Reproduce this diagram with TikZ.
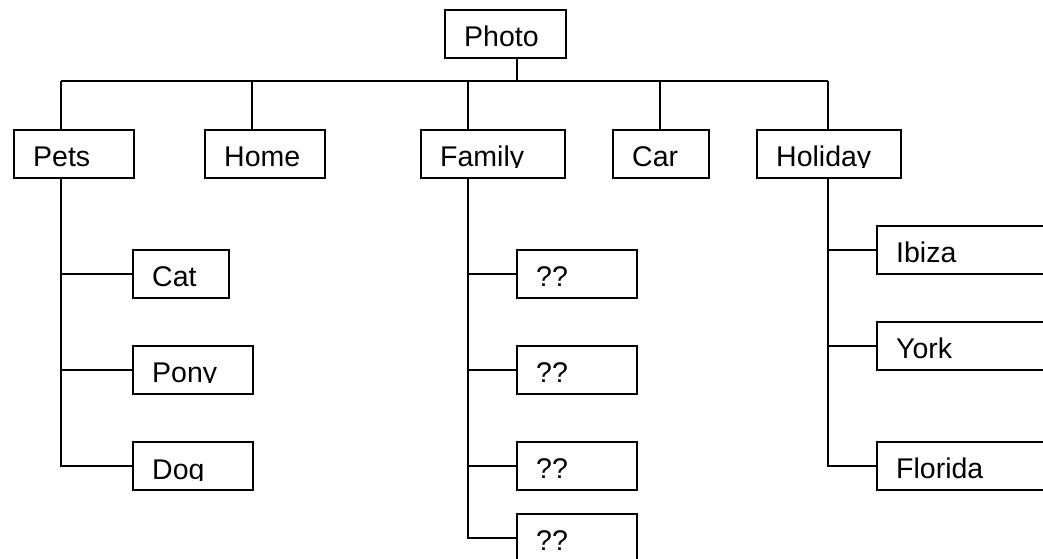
\documentclass[tikz,border=0pt]{standalone}
\usepackage{fontspec}
\setmainfont{Liberation Sans}
\tikzset{
  boxst/.style={draw=black, line width=1.8pt, inner sep=0pt, anchor=north west},
  lnk/.style={draw=black, line width=1.8pt},
  lbl/.style={anchor=base west, inner sep=0pt, font=\fontsize{28.5}{34}\selectfont}
}
% name, x1, y1, x2, y2, text, baseline offset
\newcommand\tbox[7]{%
  \node[boxst, minimum width={(#4-#2)*1pt}, minimum height={(#5-#3)*1pt}] (#1) at (#2,#3) {};
  \begin{scope}
    \clip ({#2},{#3}) rectangle ({#4},{#3+#7+0.3});
    \node[lbl] (#1-t) at ({#2+20},{#3+#7}) {#6};
  \end{scope}
}
\begin{document}
\begin{tikzpicture}[x=1pt,y=-1pt]
\useasboundingbox[fill=white] (0,0) rectangle (1043,558);
\begin{scope}
\clip (0,0) rectangle (1043,558);
% level 0
\tbox{photo}{444}{9}{565}{57}{Photo}{37.7}
% level 1
\tbox{pets}{13}{129}{133}{177}{Pets}{37.7}
\tbox{home}{204}{129}{324}{177}{Home}{37.7}
\tbox{family}{420}{129}{564}{177}{Family}{37.7}
\tbox{car}{612}{129}{708}{177}{Car}{37.7}
\tbox{holiday}{756}{129}{900}{177}{Holiday}{37.7}
% pets children
\tbox{cat}{132}{249}{228}{297}{Cat}{37.7}
\tbox{pony}{132}{345}{252}{393}{Pony}{37.2}
\tbox{dog}{132}{441}{252}{489}{Dog}{38.7}
% family children
\tbox{q1}{516}{249}{636}{297}{??}{37.5}
\tbox{q2}{516}{345}{636}{393}{??}{37.5}
\tbox{q3}{516}{441}{636}{489}{??}{37.5}
\tbox{q4}{516}{513}{636}{561}{??}{37.5}
% holiday children
\tbox{ibiza}{876}{225}{1060}{273}{Ibiza}{37.2}
\tbox{york}{876}{321}{1060}{369}{York}{37.2}
\tbox{florida}{876}{441}{1060}{489}{Florida}{37.2}

% junction coordinates on the bar
\coordinate (j0) at (517,81);
\coordinate (jPets) at (61,81);
\coordinate (jHome) at (252,81);
\coordinate (jFamily) at (468,81);
\coordinate (jCar) at (660,81);
\coordinate (jHoliday) at (828,81);

\draw[lnk] (j0 |- photo.south) -- (j0);
\draw[lnk] (jPets) -- (jHoliday);
\draw[lnk] (jPets) -- (jPets |- pets.north);
\draw[lnk] (jHome) -- (jHome |- home.north);
\draw[lnk] (jFamily) -- (jFamily |- family.north);
\draw[lnk] (jCar) -- (jCar |- car.north);
\draw[lnk] (jHoliday) -- (jHoliday |- holiday.north);

% pets tree
\draw[lnk] (jPets |- pets.south) -- (jPets |- dog.west) -- (dog.west);
\draw[lnk] (jPets |- cat.west) -- (cat.west);
\draw[lnk] (jPets |- pony.west) -- (pony.west);
% family tree
\draw[lnk] (jFamily |- family.south) -- (jFamily |- q4.west) -- (q4.west);
\draw[lnk] (jFamily |- q1.west) -- (q1.west);
\draw[lnk] (jFamily |- q2.west) -- (q2.west);
\draw[lnk] (jFamily |- q3.west) -- (q3.west);
% holiday tree
\draw[lnk] (jHoliday |- holiday.south) -- (jHoliday |- florida.west) -- (florida.west);
\draw[lnk] (jHoliday |- ibiza.west) -- (ibiza.west);
\draw[lnk] (jHoliday |- york.west) -- (york.west);
\end{scope}
\end{tikzpicture}
\end{document}
